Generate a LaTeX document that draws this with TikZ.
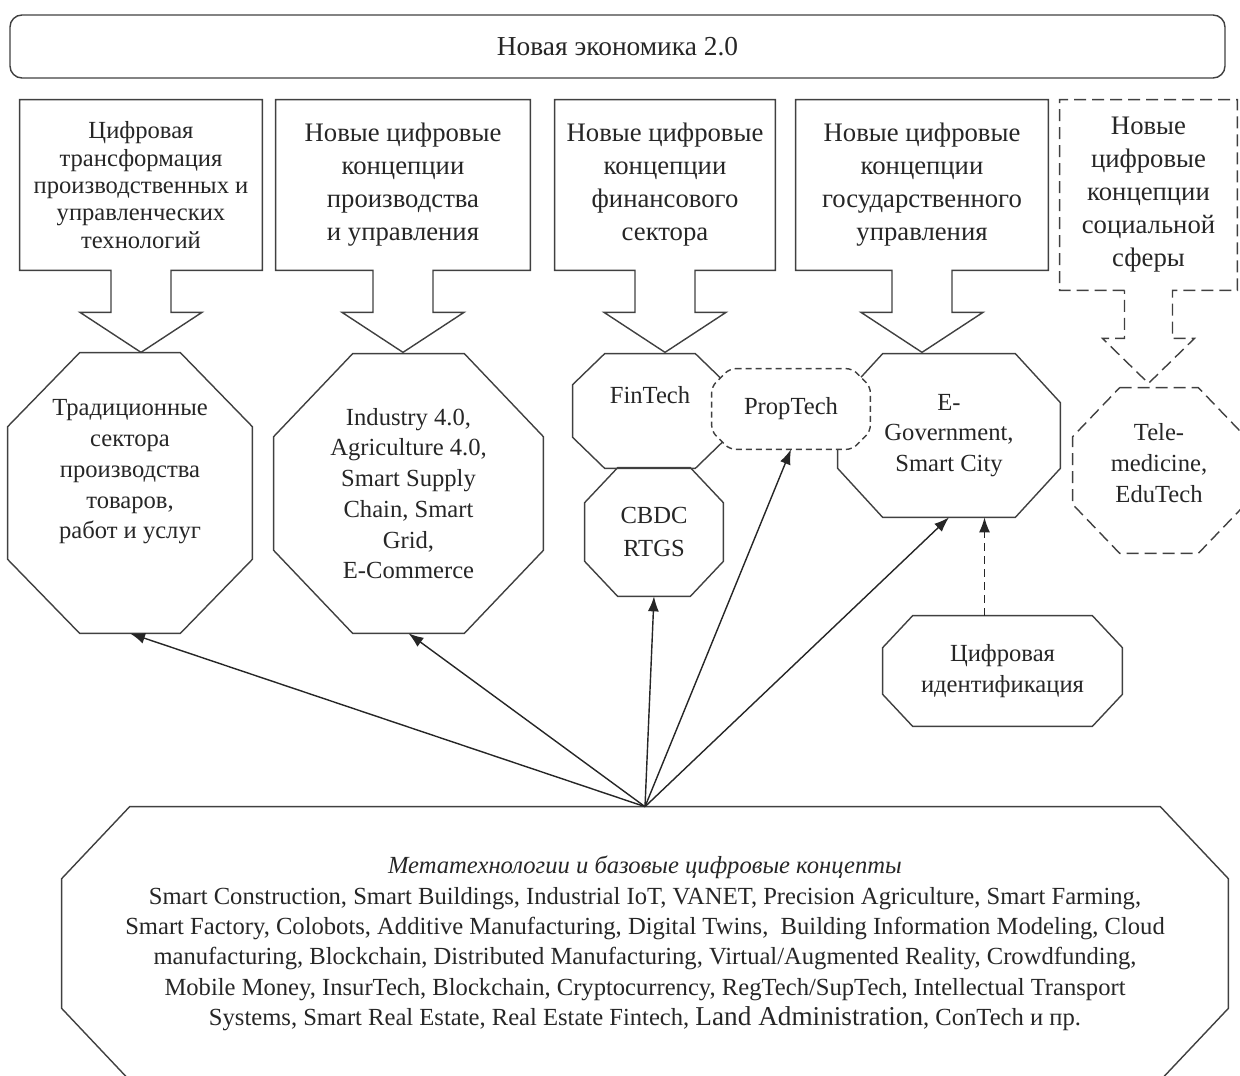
\documentclass[tikz,border=0pt]{standalone}
\usepackage{fontspec}
\setmainfont{Liberation Serif}
\usetikzlibrary{calc,arrows.meta,backgrounds}

\tikzset{
  txt/.style={font=\fontsize{14}{17.5}\selectfont, align=center, inner sep=0pt, text=black!85},
  hd/.style={txt, font=\fontsize{15.2}{18.8}\selectfont},
  sz/.style 2 args={minimum width=#1*0.2mm, minimum height=#2*0.2mm},
  outl/.style={line width=0.8pt, draw=black!75},
  dsh/.style={dash pattern=on 2.4mm off 1.2mm},
  link/.style={line width=0.8pt, black!85, -{Latex[length=3mm,width=2.2mm]}},
}

% octagon round a node: #2 node, #3 cut x, #4 cut y
\newcommand{\octa}[4][]{%
  \draw[outl,#1] ($(#2.north west)+(#3,0)$) -- ($(#2.north east)+(-#3,0)$)
    -- ($(#2.north east)+(0,#4)$) -- ($(#2.south east)+(0,-#4)$)
    -- ($(#2.south east)+(-#3,0)$) -- ($(#2.south west)+(#3,0)$)
    -- ($(#2.south west)+(0,-#4)$) -- ($(#2.north west)+(0,#4)$) -- cycle;}

% box with a block arrow under it: #2 node, #3 half stem, #4 half head, #5 stem, #6 length
\newcommand{\blockbox}[6][]{%
  \draw[outl,#1] ($(#2.south)+(-#3,0)$) -- (#2.south west) -- (#2.north west)
    -- (#2.north east) -- (#2.south east) -- ($(#2.south)+(#3,0)$)
    -- ($(#2.south)+(#3,#5)$) -- ($(#2.south)+(#4,#5)$) -- ($(#2.south)+(0,#6)$)
    -- ($(#2.south)+(-#4,#5)$) -- ($(#2.south)+(-#3,#5)$) -- cycle;}

\begin{document}
\begin{tikzpicture}[x=0.2mm,y=-0.2mm]
\useasboundingbox (0,0) rectangle (1240,1075);

% title
\node[txt, sz={1215}{63}, draw, outl, rounded corners=2.4mm, font=\fontsize{15.6}{18}\selectfont] (eco) at (617.5,46.5) {Новая экономика 2.0};

% column heads
\node[hd, sz={242}{170}, font=\fontsize{14}{15.6}\selectfont] (dig) at (141,185)
  {Цифровая\\трансформация\\производственных и\\управленческих\\технологий};
\node[hd, sz={254}{170}] (prod) at (403,185) {Новые цифровые\\концепции\\производства\\и управления};
\node[hd, sz={220}{170}] (fina) at (665,185) {Новые цифровые\\концепции\\финансового\\сектора};
\node[hd, sz={252}{170}] (gov) at (922,185) {Новые цифровые\\концепции\\государственного\\управления};
\node[hd, sz={177}{190}, text depth=1.4mm] (soc) at (1148.5,195) {Новые\\цифровые\\концепции\\социальной\\сферы};

% octagons
\node[txt, sz={244}{280}, text depth=9.5mm] (trad) at (130,493)
  {Традиционные\\сектора\\производства\\товаров,\\работ и услуг};
\node[txt, sz={269}{279}] (ind) at (408.5,493.5)
  {Industry 4.0,\\Agriculture 4.0,\\Smart Supply\\Chain, Smart\\Grid,\\E-Commerce};
\node[txt, sz={154}{114}, text depth=6.4mm] (fin) at (650,411) {FinTech};
\node[txt, sz={138}{128}, font=\fontsize{14}{18.3}\selectfont] (cbdc) at (654,532) {CBDC\\RTGS};
\node[txt, sz={158}{80}] (prop) at (791,409) {PropTech};
\node[txt, sz={222}{163}] (egov) at (949,435.5) {E-\\Government,\\Smart City};
\node[txt, sz={172}{165}, text depth=3mm] (tele) at (1159,470.5) {Tele-\\medicine,\\EduTech};
\node[txt, sz={239}{110}] (ident) at (1002.5,671) {Цифровая\\идентификация};
\node[txt, sz={1166}{273}, font=\fontsize{14}{17.3}\selectfont] (meta) at (645,943.5)
  {{\itshape Метатехнологии и базовые цифровые концепты}\\
   Smart Construction, Smart Buildings, Industrial IoT, VANET, Precision Agriculture, Smart Farming,\\
   Smart Factory, Colobots, Additive Manufacturing, Digital Twins, \ Building Information Modeling, Cloud\\
   manufacturing, Blockchain, Distributed Manufacturing, Virtual/Augmented Reality, Crowdfunding,\\
   Mobile Money, InsurTech, Blockchain, Cryptocurrency, RegTech/SupTech, Intellectual Transport\\
   Systems, Smart Real Estate, Real Estate Fintech, {\fontsize{15.5}{17}\selectfont Land Administration}, ConTech и пр.};

% outlines
\begin{pgfonlayer}{background}
  \foreach \n in {dig,prod,fina,gov} {\blockbox{\n}{30}{61}{42}{82}}
  \blockbox[dsh]{soc}{24}{46}{48}{93}
  \octa{trad}{72}{74}
  \octa{ind}{79}{83}
  \octa{fin}{32}{31}
  \octa{cbdc}{33}{35}
  \octa{egov}{45}{49}
  \octa[dsh]{tele}{47}{49}
  \octa{ident}{30}{32}
  \octa{meta}{68}{72}
  \octa[dash pattern=on 1.2mm off 0.8mm, fill=white, rounded corners=1.2mm]{prop}{18}{18}
\end{pgfonlayer}

% arrows
\foreach \t in {trad,ind,cbdc,prop,egov} \draw[link] (meta.north) -- (\t.south);
\coordinate (idup) at ($(ident.north)+(-18,0)$);
\draw[link, dash pattern=on 1.6mm off 1mm] (idup) -- (idup |- egov.south);
\end{tikzpicture}
\end{document}
